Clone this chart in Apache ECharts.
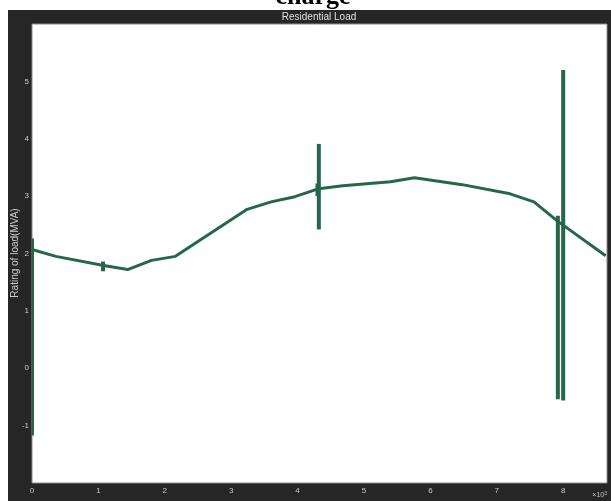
<!DOCTYPE html>
<html><head><meta charset="utf-8">
<script src="https://cdn.jsdelivr.net/npm/echarts@6/dist/echarts.min.js"></script>
<style>html,body{margin:0;padding:0;background:#fff}#c{width:611px;height:501px}</style>
</head><body><div id="c"></div>
<script>
// Data
const lineX = [0, 360, 1080, 1440, 1800, 2160, 3240, 3600, 3960, 4320, 4680, 5400, 5760, 6480, 7200, 7560, 7920, 8640];
const lineY = [2.07, 1.95, 1.79, 1.72, 1.88, 1.95, 2.77, 2.90, 2.99, 3.13, 3.18, 3.25, 3.32, 3.20, 3.04, 2.90, 2.56, 1.96];
const barX = [0, 1070, 4320, 4300, 7920, 8000];
const barLow = [-1.17, 1.69, 2.42, 3.00, -0.54, -0.56];
const barHigh = [2.26, 1.86, 3.91, 3.22, 2.66, 5.20];
const xTicks = ['0','1','2','3','4','5','6','7','8'];
const yTicks = ['-1','0','1','2','3','4','5'];

const green = '#26674a';
const chart = echarts.init(document.getElementById('c'));
chart.setOption({
  animation: false,
  backgroundColor: '#fff',
  graphic: [
    {type:'rect', shape:{x:8,y:10,width:603,height:491}, style:{fill:'#262626'}, z:-10},
    {type:'rect', shape:{x:32,y:24,width:575,height:459}, style:{fill:'#fff', stroke:'#8a8a8a', lineWidth:1}, z:-5},
    {type:'text', x:313, y:10, style:{text:'charge', font:'bold 26px "Liberation Serif"', fill:'#000', align:'center', verticalAlign:'bottom'}, z:100},
    {type:'text', x:319, y:17, style:{text:'Residential Load', font:'10px "Liberation Sans"', fill:'#e0e0e0', align:'center', verticalAlign:'middle'}, z:100},
    {type:'text', x:15, y:253, rotation:Math.PI/2, style:{text:'Rating of load(MVA)', font:'10px "Liberation Sans"', fill:'#d0d0d0', align:'center', verticalAlign:'middle'}, z:100},
    {type:'text', x:607, y:500, style:{text:'{a|×10}{b|3}', rich:{a:{font:'7px "Liberation Sans"', fill:'#c8c8c8'}, b:{font:'5px "Liberation Sans"', fill:'#c8c8c8', verticalAlign:'top', padding:[0,0,4,0]}}, align:'right', verticalAlign:'bottom'}, z:100}
  ],
  grid: {left:32, top:24, width:575, height:459, show:false},
  xAxis: {
    type:'value', min:0, max:8660, interval:1000,
    axisLine:{show:false}, axisTick:{show:false}, splitLine:{show:false},
    axisLabel:{color:'#c8c8c8', fontSize:8, fontFamily:'Liberation Sans', margin:4, showMaxLabel:false,
      formatter: v => { const i = Math.round(v/1000); return (Math.abs(v - i*1000) < 1 && xTicks[i] !== undefined) ? xTicks[i] : ''; }}
  },
  yAxis: {
    type:'value', min:-2, max:6, interval:1,
    axisLine:{show:false}, axisTick:{show:false}, splitLine:{show:false},
    axisLabel:{color:'#c8c8c8', fontSize:8, fontFamily:'Liberation Sans', margin:3, showMinLabel:false, showMaxLabel:false,
      formatter: v => { const s = String(Math.round(v)); return yTicks.includes(s) ? s : ''; }}
  },
  series: [
    {type:'line', data: lineX.map((x,i)=>[x,lineY[i]]), showSymbol:false, symbol:'none',
      lineStyle:{color:green, width:3}, clip:true, z:5},
    {type:'custom', clip:true, z:6,
      data: barX.map((x,i)=>[x, barLow[i], barHigh[i]]),
      renderItem: (params, api) => {
        const a = api.coord([api.value(0), api.value(1)]);
        const b = api.coord([api.value(0), api.value(2)]);
        return {type:'line', shape:{x1:a[0], y1:a[1], x2:b[0], y2:b[1]}, style:{stroke:green, lineWidth:4}};
      }}
  ]
});
</script></body></html>
